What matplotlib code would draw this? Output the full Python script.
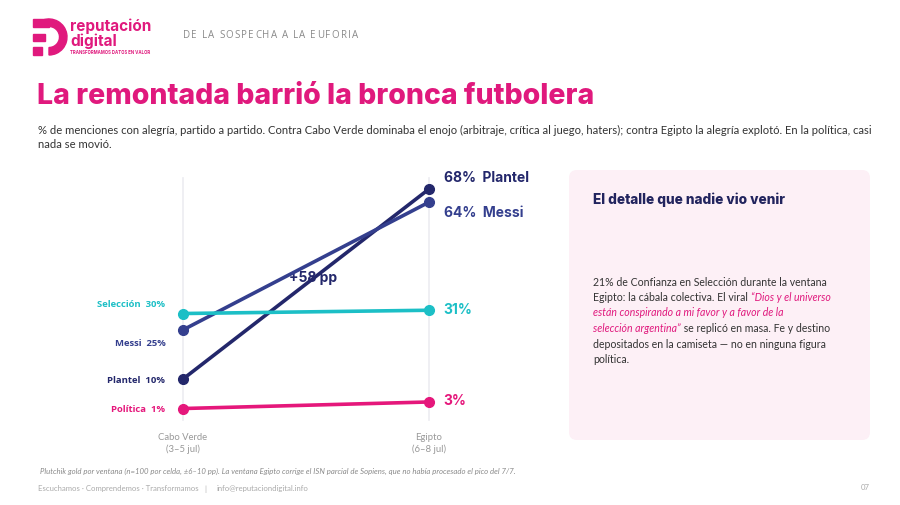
import matplotlib
matplotlib.use("Agg")
import matplotlib.pyplot as plt
from matplotlib.patches import FancyBboxPatch, Rectangle, Wedge

# data
periods = ["Cabo Verde\n(3–5 jul)", "Egipto\n(6–8 jul)"]
series = ["Plantel", "Messi", "Selección", "Política"]
cabo_verde = [10, 25, 30, 1]
egipto = [68, 64, 31, 3]
colors = ["#23276b", "#343f8e", "#1cbfc6", "#e5177b"]

PINK = "#e0197d"
NAVY = "#22245e"
DARK = "#333333"
GREY = "#8a8a8a"

W, H = 900, 505
fig = plt.figure(figsize=(9, 5.05), dpi=100)
fig.patch.set_facecolor("white")

# page axes in pixel coordinates
bg = fig.add_axes([0, 0, 1, 1])
bg.set_xlim(0, W)
bg.set_ylim(H, 0)
bg.axis("off")

# logo mark
bg.add_patch(Wedge((49, 37), 18, -110, 90, width=7.5, color=PINK))
bg.add_patch(Rectangle((33, 19), 16, 7.5, color=PINK))
bg.add_patch(Rectangle((33, 34), 12, 7, color=PINK))
bg.add_patch(Rectangle((33, 47), 9, 8, color=PINK))
bg.text(70, 26, "reputación", color=PINK, fontsize=11, fontweight="bold",
        family="Inter", va="center", ha="left")
bg.text(70, 41, "digital", color=PINK, fontsize=11, fontweight="bold",
        family="Inter", va="center", ha="left")
bg.text(70, 53, "TRANSFORMAMOS DATOS EN VALOR", color=PINK, fontsize=3.1,
        fontweight="bold", family="Inter", va="center", ha="left")

# spaced header
prev = bg.text(183, 36, "D", color=GREY, fontsize=7, family="Open Sans",
               va="center", ha="left")
gap = 0.9
for ch in "E LA SOSPECHA A LA EUFORIA":
    if ch == " ":
        gap += 2.6
        continue
    prev = bg.annotate(ch, xy=(1, 36), xycoords=(prev, "data"),
                       xytext=(gap, 0), textcoords="offset points",
                       color=GREY, fontsize=7, family="Open Sans",
                       va="center", ha="left")
    gap = 0.9

# title and subtitle
bg.text(37, 96, "La remontada barrió la bronca futbolera", color=PINK,
        fontsize=20.5, fontweight="heavy", family="Inter", va="center", ha="left")
bg.text(38, 130, "% de menciones con alegría, partido a partido. Contra Cabo Verde dominaba el enojo "
        "(arbitraje, crítica al juego, haters); contra Egipto la alegría explotó. En la política, casi",
        color=DARK, fontsize=8.1, family="Lato", va="center", ha="left")
bg.text(38, 144, "nada se movió.", color=DARK, fontsize=8.1, family="Lato",
        va="center", ha="left")

# chart axes: x=0 -> 183px, x=1 -> 429px ; 0% -> 411.8px, 100% -> 84.2px
left_px, right_px, top_px, bot_px = 100, 540, 160, 425
ax = fig.add_axes([left_px / W, 1 - bot_px / H, (right_px - left_px) / W, (bot_px - top_px) / H])
ax.patch.set_alpha(0)
ax.set_xlim((left_px - 183) / 246, 1 + (right_px - 429) / 246)
ax.set_ylim(-(bot_px - 411.8) / 3.276, (411.8 - top_px) / 3.276)
ax.axis("off")

for xv in [0, 1]:
    ax.plot([xv, xv], [-2.6, 71.5], color="#ececf1", lw=1.2, zorder=0)

xs = [0, 1]
for name, a, b, c in zip(series, cabo_verde, egipto, colors):
    ax.plot(xs, [a, b], color=c, lw=2.6, marker="o", ms=7, zorder=3,
            solid_capstyle="round")

for i, lab in enumerate(periods):
    ax.text(xs[i], -6.5, lab, color="#999999", fontsize=6.8, family="Lato",
            ha="center", va="top", linespacing=1.3)

# left labels
left_off = {"Plantel": -0.3, "Messi": -4, "Selección": 2.7, "Política": -0.3}
for name, a, c in zip(series, cabo_verde, colors):
    ax.text(-0.072, a + left_off[name], f"{name}  {a}%", color=c, fontsize=6.8,
            fontweight="bold", family="Open Sans", ha="right", va="center")

# right labels
right_off = {"Plantel": 3.3, "Messi": -3.3, "Selección": 0, "Política": 0.3}
for name, b, c in zip(series, egipto, colors):
    lab = f"{b}%  {name}" if name in ("Plantel", "Messi") else f"{b}%"
    ax.text(1.06, b + right_off[name], lab, color=c, fontsize=10,
            fontweight="bold", family="Inter", ha="left", va="center")

ax.text(0.53, 40.8, "+58 pp", color=colors[0], fontsize=10, fontweight="bold",
        family="Inter", ha="center", va="center", zorder=2)

# side card
bg.add_patch(FancyBboxPatch((572, 173), 295, 264, boxstyle="round,pad=3,rounding_size=8",
                            facecolor="#fdf0f6", edgecolor="none"))
bg.text(593, 200, "El detalle que nadie vio venir", color=NAVY, fontsize=9.8,
        fontweight="heavy", family="Inter", va="center", ha="left")

body = [
    [("21% de Confianza en Selección durante la ventana", False)],
    [("Egipto: la cábala colectiva. El viral ", False), ("\u201cDios y el universo", True)],
    [("están conspirando a mi favor y a favor de la", True)],
    [("selección argentina\u201d", True), (" se replicó en masa. Fe y destino", False)],
    [("depositados en la camiseta — no en ninguna figura", False)],
    [("política.", False)],
]
y0, dy = 282, 15.5
for i, line in enumerate(body):
    y = y0 + i * dy
    prev = None
    for txt, emph in line:
        kw = dict(fontsize=7.6, family="Lato", va="center", ha="left",
                  color=PINK if emph else DARK, style="italic" if emph else "normal")
        if prev is None:
            prev = bg.text(593, y, txt, **kw)
        else:
            prev = bg.annotate(txt, xy=(1, y), xycoords=(prev, "data"), **kw)

# footer
bg.text(40, 471, "Plutchik gold por ventana (n=100 por celda, ±6–10 pp). La ventana Egipto corrige el ISN "
        "parcial de Sopiens, que no había procesado el pico del 7/7.",
        color=GREY, fontsize=5.6, style="italic", family="Lato", va="center", ha="left")
bg.text(38, 489, "Escuchamos · Comprendemos · Transformamos", color="#aaaaaa", fontsize=5.6,
        family="Lato", va="center", ha="left")
bg.text(205, 489, "|", color="#aaaaaa", fontsize=5.6, family="Lato", va="center", ha="center")
bg.text(217, 489, "info@reputaciondigital.info", color="#aaaaaa", fontsize=5.6,
        family="Lato", va="center", ha="left")
bg.text(870, 487, "07", color="#aaaaaa", fontsize=5.6, family="Lato", va="center", ha="right")

fig.savefig("out.png", dpi=100, facecolor="white")
